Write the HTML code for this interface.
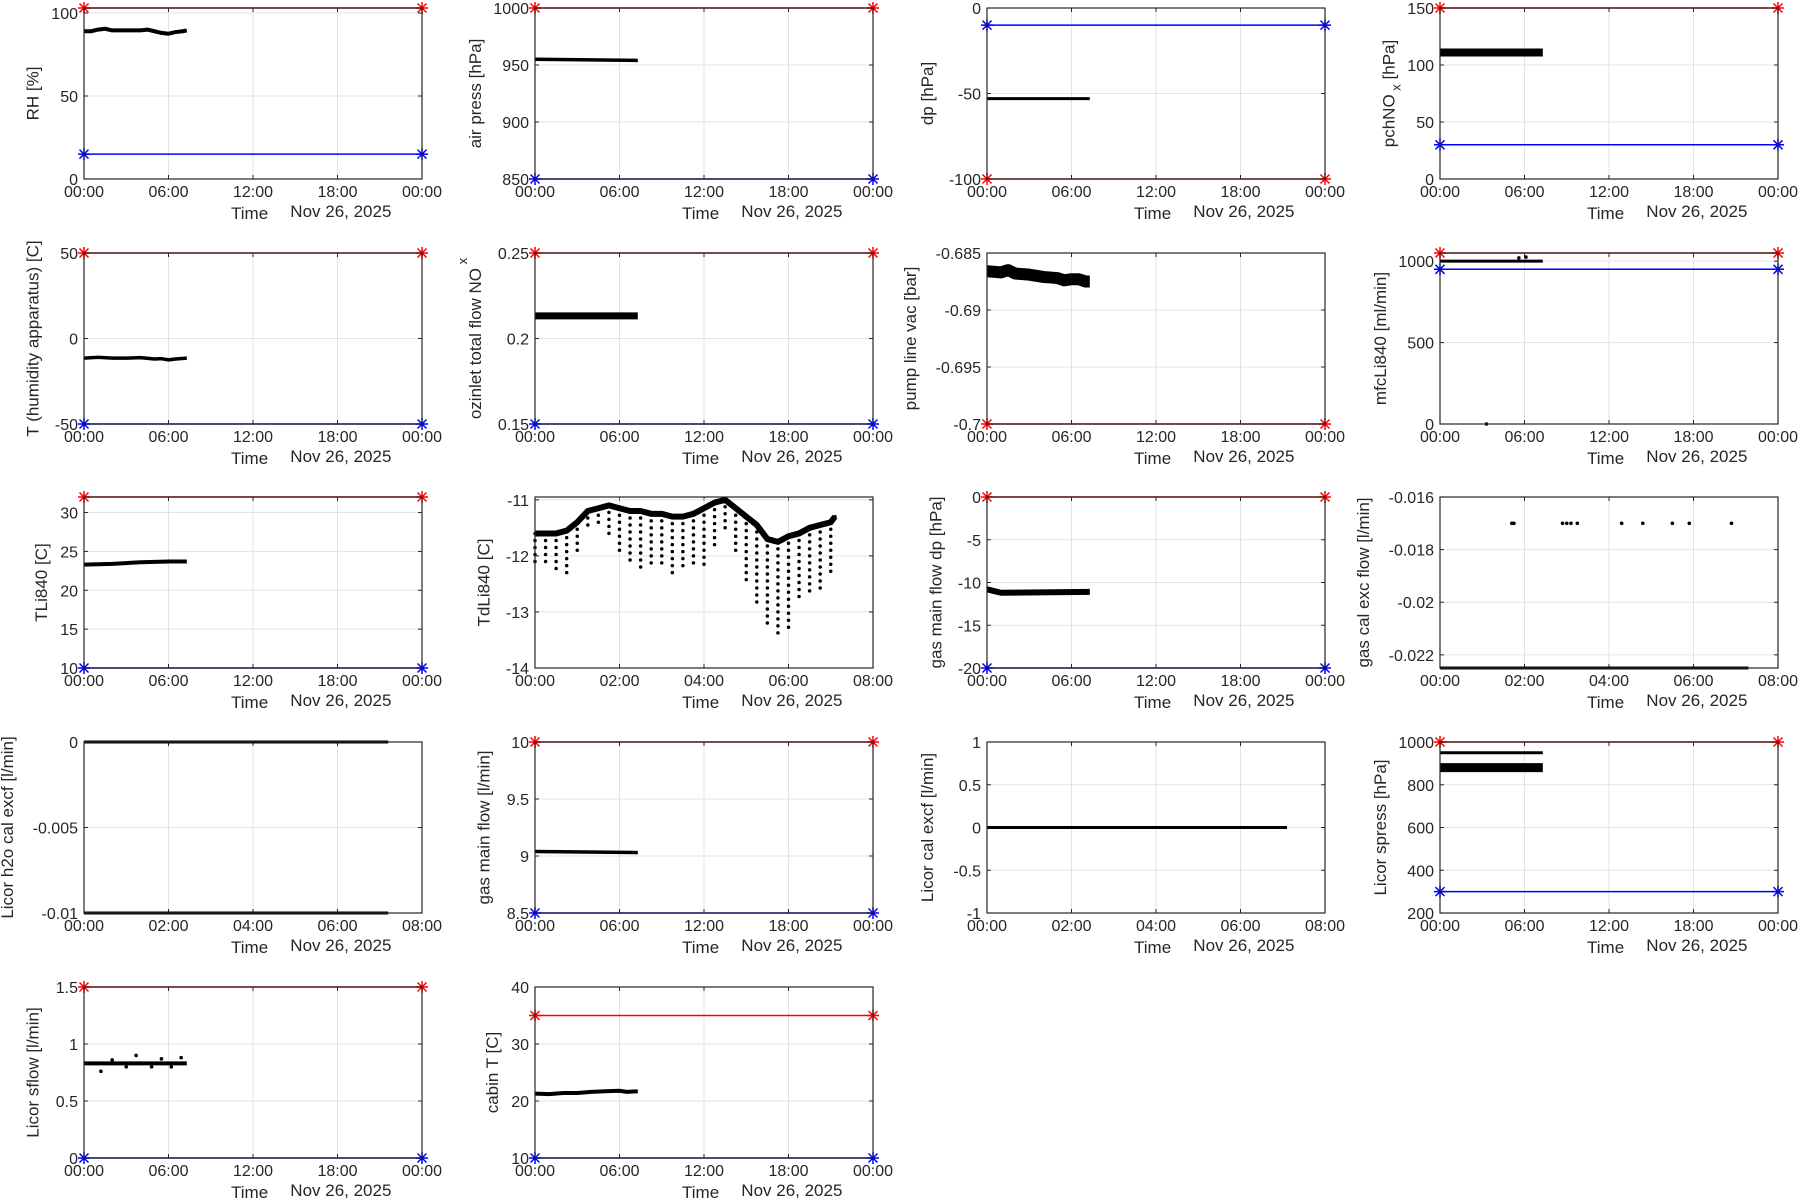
<!DOCTYPE html>
<html><head><meta charset="utf-8">
<style>
html,body{margin:0;padding:0;background:#fff;}
svg{display:block;font-family:"Liberation Sans",sans-serif;}
</style></head>
<body>
<svg id="fig" width="1800" height="1200" viewBox="0 0 1800 1200" xmlns="http://www.w3.org/2000/svg"></svg>
<script>
// ---- data arrays (hours since 00:00, values) ----
const rhT=[0,0.5,1,1.5,2,2.5,3,3.5,4,4.5,5,5.5,6,6.5,7,7.3];
const rhV=[89,89,90,90.5,89.5,89.5,89.5,89.5,89.5,90,89,88,87.5,88.5,89,89.5];
const apT=[0,7.3]; const apV=[955,954];
const dpT=[0,7.3]; const dpV=[-53,-53];
const noxT=[0,7.3]; const noxV=[111,111];
const thT=[0,1,2,3,4,5,5.5,6,6.5,7.3]; const thV=[-11.5,-11,-11.5,-11.5,-11.2,-12,-11.8,-12.5,-12,-11.5];
const ozT=[0,7.3]; const ozV=[0.2132,0.2132];
const pvT=[0,1,1.5,2,3,4,5,5.5,6,6.5,7,7.3]; const pvV=[-0.6866,-0.6867,-0.6865,-0.6868,-0.6869,-0.6871,-0.6872,-0.6874,-0.6873,-0.6873,-0.6875,-0.6875];
const mfcT=[0,7.3]; const mfcV=[1000,1000];
const mfcDotT=[3.3,5.6,6.1]; const mfcDotV=[0,1020,1025];
const tliT=[0,2,4,6,7.3]; const tliV=[23.3,23.4,23.6,23.7,23.7];
const tdT=[0,0.25,0.5,0.75,1,1.25,1.5,1.75,2,2.25,2.5,2.75,3,3.25,3.5,3.75,4,4.25,4.5,4.75,5,5.25,5.5,5.75,6,6.25,6.5,6.75,7,7.1];
const tdUp=[-11.6,-11.6,-11.6,-11.55,-11.4,-11.2,-11.15,-11.1,-11.15,-11.2,-11.2,-11.25,-11.25,-11.3,-11.3,-11.25,-11.15,-11.05,-11.0,-11.15,-11.3,-11.45,-11.7,-11.75,-11.65,-11.6,-11.5,-11.45,-11.4,-11.3];
const tdLo=[-12.2,-12.2,-12.3,-12.3,-11.9,-11.5,-11.4,-11.6,-11.9,-12.1,-12.2,-12.2,-12.2,-12.35,-12.2,-12.2,-12.2,-11.9,-11.6,-11.9,-12.5,-12.9,-13.3,-13.45,-13.3,-12.8,-12.7,-12.6,-12.3,-11.4];
const gdpT=[0,0.5,1,7.3]; const gdpV=[-10.8,-11,-11.2,-11.1];
const gceT=[0,7.3]; const gceV=[-0.0225,-0.0225];
const gceDotT=[1.7,1.75,2.9,3.0,3.1,3.25,4.3,4.8,5.5,5.9,6.9]; const gceDotV=[-0.017,-0.017,-0.017,-0.017,-0.017,-0.017,-0.017,-0.017,-0.017,-0.017,-0.017];
const h2oT=[0,7.2]; const h2oA=[0,0]; const h2oB=[-0.01,-0.01];
const gmfT=[0,7.3]; const gmfV=[9.04,9.03];
const lceT=[0,7.1]; const lceV=[0,0];
const spT=[0,7.3]; const spA=[880,880]; const spB=[950,950];
const sfT=[0,7.3]; const sfV=[0.83,0.83];
const sfDotT=[1.2,2.0,3.0,3.7,4.8,5.5,6.2,6.9]; const sfDotV=[0.76,0.86,0.8,0.9,0.8,0.87,0.8,0.88];
const ctT=[0,1,2,3,4,5,6,6.5,7.3]; const ctV=[21.3,21.2,21.4,21.4,21.6,21.7,21.8,21.6,21.7];
const ticks24=['00:00','06:00','12:00','18:00','00:00'];
const ticks8=['00:00','02:00','04:00','06:00','08:00'];

// ---- layout ----
const COLS=[84,535,987,1440], ROWS=[8,253,497,742,987], W=338, H=171;
const svg=document.getElementById('fig');
const NS='http://www.w3.org/2000/svg';
function mk(tag,attrs,parent){const e=document.createElementNS(NS,tag);for(const k in attrs)e.setAttribute(k,attrs[k]);(parent||svg).appendChild(e);return e;}

function star(g,x,y,color){
  const s=6;
  const p=mk('path',{d:`M${x-s},${y}H${x+s}M${x},${y-s}V${y+s}M${x-4.5},${y-4.5}L${x+4.5},${y+4.5}M${x-4.5},${y+4.5}L${x+4.5},${y-4.5}`,stroke:color,'stroke-width':1.5,fill:'none'},g);
  
  
}

function panel(id,col,row,ylabel,ymin,ymax,yticks,xmax,xlabels,red,blue,draw){
  const L=COLS[col],T=ROWS[row],B=T+H,R=L+W;
  const g=mk('g',{});
  
  
  const sx=t=>L+t/xmax*W, sy=v=>B-(v-ymin)/(ymax-ymin)*H;
  const nx=xlabels.length;
  for(let i=0;i<nx;i++){const x=L+i*W/(nx-1);
    const gl=mk('line',{x1:x,x2:x,y1:T,y2:B,stroke:'#e3e3e3','stroke-width':1},g);
    
    const tl=mk('text',{x:x,y:B+18,'font-size':16,'text-anchor':'middle',fill:'#262626'},g);tl.textContent=xlabels[i];
    
    mk('line',{x1:x,x2:x,y1:B,y2:B-4,stroke:'#262626'},g);mk('line',{x1:x,x2:x,y1:T,y2:T+4,stroke:'#262626'},g);
  }
  let maxc=0;
  yticks.forEach(v=>{const y=sy(v);
    const gl=mk('line',{x1:L,x2:R,y1:y,y2:y,stroke:'#e3e3e3','stroke-width':1},g);
    
    const s=String(v);maxc=Math.max(maxc,s.length);
    const tl=mk('text',{x:L-6,y:y+6,'font-size':16,'text-anchor':'end',fill:'#262626'},g);tl.textContent=s;
    
    mk('line',{x1:L,x2:L+4,y1:y,y2:y,stroke:'#262626'},g);mk('line',{x1:R,x2:R-4,y1:y,y2:y,stroke:'#262626'},g);
  });
  const lx=L-(maxc*8.5+20);
  const yl=mk('text',{x:0,y:0,'font-size':17,'text-anchor':'middle',fill:'#262626',transform:`translate(${lx},${T+H/2}) rotate(-90)`},g);
  yl.innerHTML=ylabel;
  
  const xt=mk('text',{x:L+0.49*W,y:B+40,'font-size':17,'text-anchor':'middle',fill:'#262626'},g);xt.textContent='Time';
  
  const dt=mk('text',{x:L+0.76*W,y:B+38,'font-size':17,'text-anchor':'middle',fill:'#262626'},g);dt.textContent='Nov 26, 2025';
  
  draw(g,sx,sy);
  [[red,'#ff0000','upper-limit-line'],[blue,'#0000ff','lower-limit-line']].forEach(([v,c,n])=>{
    if(v===null)return;const y=sy(v);
    const ln=mk('line',{x1:L,x2:R,y1:y,y2:y,stroke:c,'stroke-width':1.5},g);
    
    star(g,L,y,c);star(g,R,y,c);
  });
  const box=mk('rect',{x:L,y:T,width:W,height:H,fill:'none',stroke:'#262626','stroke-width':1.2},g);
  
}
function line(g,sx,sy,ts,vs,w){
  const p=mk('polyline',{points:ts.map((t,i)=>sx(t)+','+sy(vs[i])).join(' '),fill:'none',stroke:'#000','stroke-width':w,'stroke-linejoin':'round','stroke-linecap':'butt'},g);
  
  
}
function dots(g,sx,sy,ts,vs,r){
  ts.forEach((t,i)=>{const c=mk('circle',{cx:sx(t),cy:sy(vs[i]),r:r,fill:'#000'},g);
    
    });
}

panel('rh',0,0,'RH [%]',0,103,[0,50,100],24,ticks24,103,15,(g,sx,sy)=>line(g,sx,sy,rhT,rhV,4));
panel('air-press',1,0,'air press [hPa]',850,1000,[850,900,950,1000],24,ticks24,1000,850,(g,sx,sy)=>line(g,sx,sy,apT,apV,3.5));
panel('dp',2,0,'dp [hPa]',-100,0,[-100,-50,0],24,ticks24,-100,-10,(g,sx,sy)=>line(g,sx,sy,dpT,dpV,3));
panel('pchnox',3,0,'pchNO<tspan dy="6" font-size="13"> x</tspan><tspan dy="-6"> [hPa]</tspan>',0,150,[0,50,100,150],24,ticks24,150,30,(g,sx,sy)=>line(g,sx,sy,noxT,noxV,8));
panel('t-humidity',0,1,'T (humidity apparatus) [C]',-50,50,[-50,0,50],24,ticks24,50,-50,(g,sx,sy)=>line(g,sx,sy,thT,thV,3.5));
panel('ozinlet',1,1,'ozinlet total flow NO<tspan dy="-14" font-size="13">  x</tspan>',0.15,0.25,[0.15,0.2,0.25],24,ticks24,0.25,0.15,(g,sx,sy)=>line(g,sx,sy,ozT,ozV,7));
panel('pump-vac',2,1,'pump line vac [bar]',-0.7,-0.685,[-0.7,-0.695,-0.69,-0.685],24,ticks24,-0.7,null,(g,sx,sy)=>line(g,sx,sy,pvT,pvV,12));
panel('mfcli840',3,1,'mfcLi840 [ml/min]',0,1050,[0,500,1000],24,ticks24,1050,950,(g,sx,sy)=>{line(g,sx,sy,mfcT,mfcV,3);dots(g,sx,sy,mfcDotT,mfcDotV,1.8);});
panel('tli840',0,2,'TLi840 [C]',10,32,[10,15,20,25,30],24,ticks24,32,10,(g,sx,sy)=>line(g,sx,sy,tliT,tliV,4));
panel('tdli840',1,2,'TdLi840 [C]',-14,-10.95,[-14,-13,-12,-11],8,ticks8,null,null,(g,sx,sy)=>{
  tdT.forEach((t,i)=>{const p=mk('line',{x1:sx(t),x2:sx(t),y1:sy(tdUp[i]),y2:sy(tdLo[i]),stroke:'#000','stroke-width':3.5,'stroke-dasharray':'0 7','stroke-linecap':'round'},g);
    });
  line(g,sx,sy,tdT,tdUp,6);});
panel('gas-main-dp',2,2,'gas main flow dp [hPa]',-20,0,[-20,-15,-10,-5,0],24,ticks24,0,-20,(g,sx,sy)=>line(g,sx,sy,gdpT,gdpV,6));
panel('gas-cal-exc',3,2,'gas cal exc flow [l/min]',-0.0225,-0.016,[-0.022,-0.02,-0.018,-0.016],8,ticks8,null,null,(g,sx,sy)=>{line(g,sx,sy,gceT,gceV,3);dots(g,sx,sy,gceDotT,gceDotV,1.8);});
panel('licor-h2o',0,3,'Licor h2o cal excf [l/min]',-0.01,0,[-0.01,-0.005,0],8,ticks8,null,null,(g,sx,sy)=>{line(g,sx,sy,h2oT,h2oA,3);line(g,sx,sy,h2oT,h2oB,3);});
panel('gas-main-flow',1,3,'gas main flow [l/min]',8.5,10,[8.5,9,9.5,10],24,ticks24,10,8.5,(g,sx,sy)=>line(g,sx,sy,gmfT,gmfV,3.5));
panel('licor-cal',2,3,'Licor cal excf [l/min]',-1,1,[-1,-0.5,0,0.5,1],8,ticks8,null,null,(g,sx,sy)=>line(g,sx,sy,lceT,lceV,3));
panel('licor-spress',3,3,'Licor spress [hPa]',200,1000,[200,400,600,800,1000],24,ticks24,1000,300,(g,sx,sy)=>{line(g,sx,sy,spT,spA,9);line(g,sx,sy,spT,spB,3);});
panel('licor-sflow',0,4,'Licor sflow [l/min]',0,1.5,[0,0.5,1,1.5],24,ticks24,1.5,0,(g,sx,sy)=>{line(g,sx,sy,sfT,sfV,4);dots(g,sx,sy,sfDotT,sfDotV,1.8);});
panel('cabin-t',1,4,'cabin T [C]',10,40,[10,20,30,40],24,ticks24,35,10,(g,sx,sy)=>line(g,sx,sy,ctT,ctV,4));
</script>
</body></html>
